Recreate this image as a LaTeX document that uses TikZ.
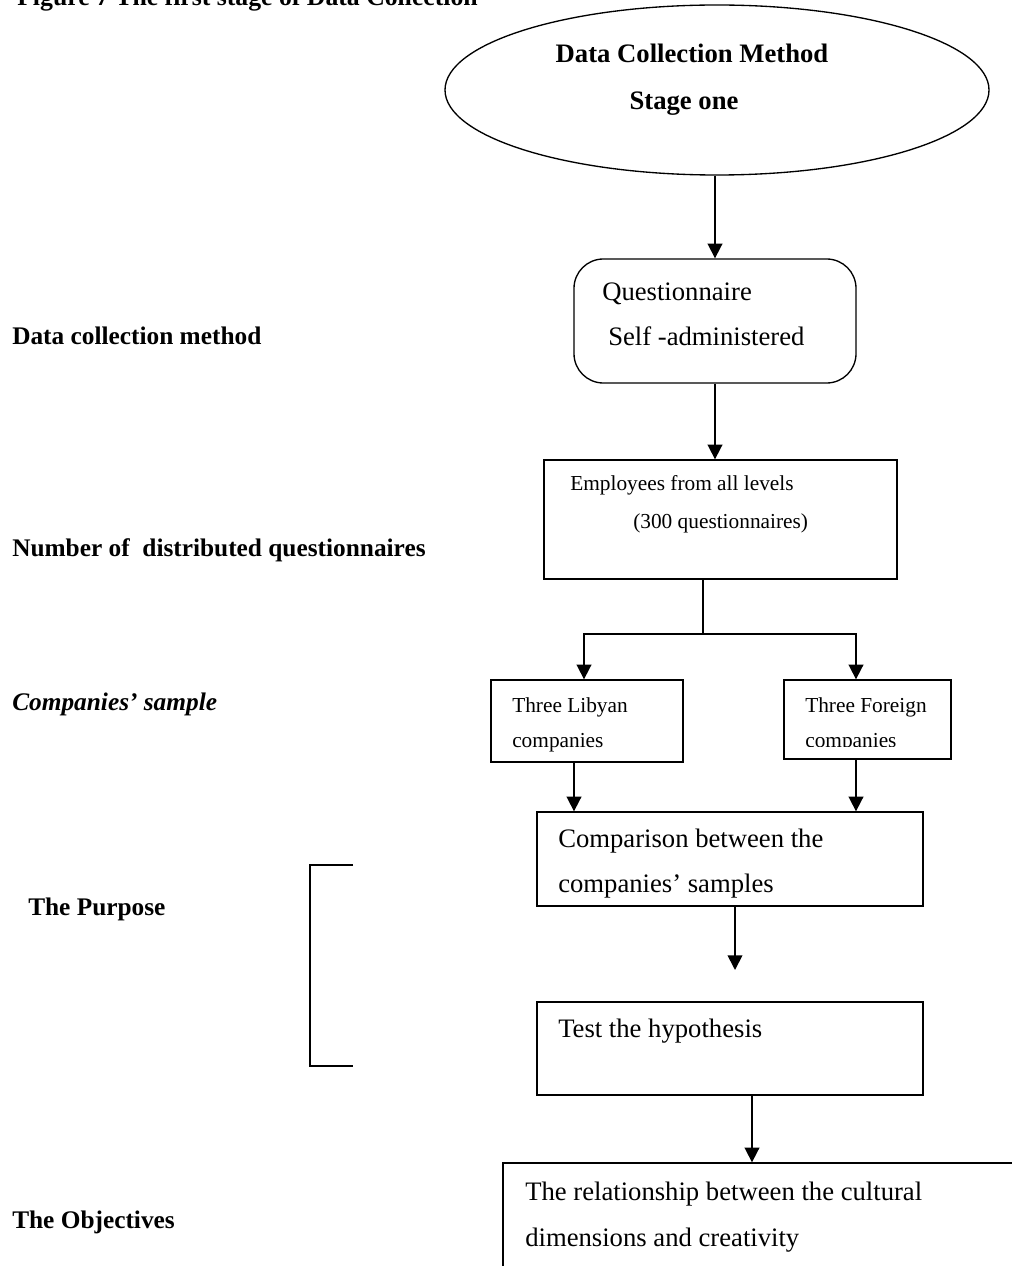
\documentclass[tikz,border=0pt]{standalone}
\usepackage{fontspec}
\setmainfont{Liberation Serif}
\usetikzlibrary{arrows.meta,shapes.geometric,calc}
\begin{document}
\begin{tikzpicture}[x=0.75pt,y=-0.75pt,
  box/.style={draw, line width=1pt, rectangle, inner sep=0pt},
  conn/.style={line width=1.3pt},
  arr/.style={conn, -{Triangle[length=11pt,width=11pt]}},
  lbl/.style={anchor=base west, inner sep=0pt, font=\fontsize{19}{22}\selectfont\bfseries},
  big/.style={anchor=base west, inner sep=0pt, font=\fontsize{20}{24}\selectfont},
  small/.style={anchor=base west, inner sep=0pt, font=\fontsize{16}{19}\selectfont},
]
\useasboundingbox (0,0) rectangle (1012,1266);
\clip (0,0) rectangle (1012,1266);

% heading
\node[lbl, font=\fontsize{19.3}{22}\selectfont\bfseries] (title) at (17,6) {Figure 7 The first stage of Data Collection};

% stage ellipse
\node[draw, line width=1pt, ellipse, inner sep=0pt, minimum width=408pt, minimum height=127.5pt] (ell) at (717,90) {};
\node[anchor=base, inner sep=0pt, font=\fontsize{20}{24}\selectfont\bfseries] (ellA) at (692,63) {Data Collection Method};
\node[anchor=base, inner sep=0pt, font=\fontsize{20}{24}\selectfont\bfseries] (ellB) at (684,110) {Stage one};

% flow boxes
\node[box, rounded corners=22pt, minimum width=211.5pt, minimum height=93pt] (q) at (715,321) {};
\node[big] (qA) at (602,300) {Questionnaire};
\node[big] (qB) at (608,345) {Self -administered};

\node[box, minimum width=264.75pt, minimum height=89.25pt] (emp) at (720.5,519.5) {};
\node[small] (empA) at (570,490) {Employees from all levels};
\node[small] (empB) at (633,528) {(300 questionnaires)};

\node[box, minimum width=144pt, minimum height=61.5pt] (lib) at (587,721) {};
\node[small] (libA) at (512,712) {Three Libyan};
\node[small] (libB) at (512,747) {companies};

\node[box, minimum width=125.25pt, minimum height=59.25pt] (for) at (867.5,719.5) {};
\node[small] (forA) at (805,712) {Three Foreign};
\begin{scope}
  \clip (784,720) rectangle (951,746);
  \node[small] (forB) at (805,747) {companies};
\end{scope}

\node[box, minimum width=289.5pt, minimum height=70.5pt] (comp) at (730,859) {};
\node[big] (compA) at (558,847) {Comparison between the};
\node[big] (compB) at (558,892) {companies’ samples};

\node[box, minimum width=289.5pt, minimum height=69.75pt] (test) at (730,1048.5) {};
\node[big] (testA) at (558,1037) {Test the hypothesis};

\node[box, minimum width=395.25pt, minimum height=95.25pt] (obj) at (766.5,1226.5) {};
\node[big] (objA) at (525,1200) {The relationship between the cultural};
\node[big] (objB) at (525,1246) {dimensions and creativity};

% row labels
\node[lbl] (l1) at (12,344) {Data collection method};
\node[lbl] (l2) at (12,556) {Number of \ distributed questionnaires};
\node[lbl, font=\fontsize{19}{22}\selectfont\bfseries\itshape] (l3) at (12,710) {Companies’ sample};
\node[lbl] (l4) at (28,915) {The Purpose};
\node[lbl] (l5) at (12,1228) {The Objectives};

% bracket beside the purpose rows
\coordinate (brT) at (353,865);
\coordinate (brB) at (353,1066);
\draw[line width=1pt] (brT) -- (310,865) -- (310,1066) -- (brB);

% connectors
\draw[arr] (q.north |- ell.south) -- (q.north);
\draw[arr] (q.south) -- (q.south |- emp.north);
\coordinate (split) at (703,634);
\coordinate (jl) at (584,634);
\coordinate (jr) at (856,634);
\draw[conn] (emp.south -| split) -- (split);
\draw[arr] (split) -- (jl) -- (jl |- lib.north);
\draw[arr] (split) -- (jr) -- (jr |- for.north);
\coordinate (libOut) at (574,762);
\coordinate (forOut) at (856,759);
\coordinate (testOut) at (752,1095);
\coordinate (tip) at (735,970);
\draw[arr] (lib.south -| libOut) -- (libOut |- comp.north);
\draw[arr] (for.south -| forOut) -- (forOut |- comp.north);
\draw[arr] (comp.south -| tip) -- (tip);
\draw[arr] (test.south -| testOut) -- (testOut |- obj.north);
\end{tikzpicture}
\end{document}
